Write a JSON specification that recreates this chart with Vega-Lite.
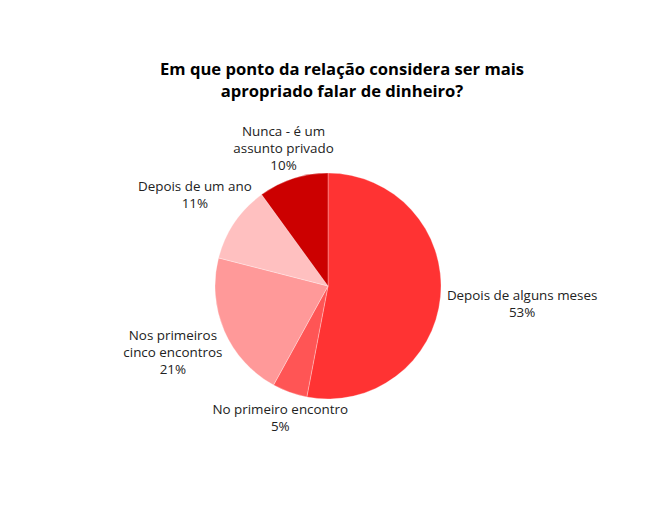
{
  "$schema": "https://vega.github.io/schema/vega-lite/v6.json",
  "autosize": "none",
  "width": 656,
  "height": 310,
  "padding": {"left": 0, "top": 131, "right": 14, "bottom": 71},
  "background": "white",
  "config": {"view": {"stroke": null}, "font": "Open Sans"},
  "title": {
    "text": ["Em que ponto da relação considera ser mais", "apropriado falar de dinheiro?"],
    "font": "Open Sans",
    "fontSize": 16.6,
    "fontWeight": "bold",
    "color": "#000000",
    "anchor": "middle",
    "frame": "group",
    "lineHeight": 22,
    "offset": -16,
    "dx": 14
  },
  "data": {
    "values": [
      {"idx": 1, "category": "Depois de alguns meses", "value": 53, "lines": ["Depois de alguns meses", "53%"]},
      {"idx": 2, "category": "No primeiro encontro", "value": 5, "lines": ["No primeiro encontro", "5%"]},
      {"idx": 3, "category": "Nos primeiros cinco encontros", "value": 21, "lines": ["Nos primeiros", "cinco encontros", "21%"]},
      {"idx": 4, "category": "Depois de um ano", "value": 11, "lines": ["Depois de um ano", "11%"]},
      {"idx": 5, "category": "Nunca - é um assunto privado", "value": 10, "lines": ["Nunca - é um", "assunto privado", "10%"]}
    ]
  },
  "encoding": {
    "theta": {"field": "value", "type": "quantitative", "stack": true},
    "order": {"field": "idx", "type": "quantitative", "sort": "ascending"}
  },
  "layer": [
    {
      "mark": {"type": "arc", "outerRadius": 113, "stroke": "white", "strokeWidth": 0.3},
      "encoding": {
        "color": {
          "field": "category",
          "type": "nominal",
          "scale": {
            "domain": ["Depois de alguns meses", "No primeiro encontro", "Nos primeiros cinco encontros", "Depois de um ano", "Nunca - é um assunto privado"],
            "range": ["#ff3333", "#ff5555", "#ff9999", "#ffc0c0", "#cc0000"]
          },
          "legend": null
        }
      }
    },
    {
      "mark": {"type": "text", "radius": 195, "dy": -8.5, "fontSize": 13.4, "lineHeight": 17, "color": "#222222", "align": "center", "baseline": "middle"},
      "encoding": {"text": {"condition": {"test": "datum.idx == 1", "field": "lines"}, "value": ""}}
    },
    {
      "mark": {"type": "text", "radius": 141, "dy": -8.5, "fontSize": 13.4, "lineHeight": 17, "color": "#222222", "align": "center", "baseline": "middle"},
      "encoding": {"text": {"condition": {"test": "datum.idx == 2", "field": "lines"}, "value": ""}}
    },
    {
      "mark": {"type": "text", "radius": 161, "dy": -8.5, "fontSize": 13.4, "lineHeight": 17, "color": "#222222", "align": "center", "baseline": "middle"},
      "encoding": {"text": {"condition": {"test": "datum.idx == 4", "field": "lines"}, "value": ""}}
    },
    {
      "mark": {"type": "text", "radius": 169, "dy": -17, "fontSize": 13.4, "lineHeight": 17, "color": "#222222", "align": "center", "baseline": "middle"},
      "encoding": {"text": {"condition": {"test": "datum.idx == 3", "field": "lines"}, "value": ""}}
    },
    {
      "mark": {"type": "text", "radius": 144, "dy": -17, "fontSize": 13.4, "lineHeight": 17, "color": "#222222", "align": "center", "baseline": "middle"},
      "encoding": {"text": {"condition": {"test": "datum.idx == 5", "field": "lines"}, "value": ""}}
    }
  ]
}
